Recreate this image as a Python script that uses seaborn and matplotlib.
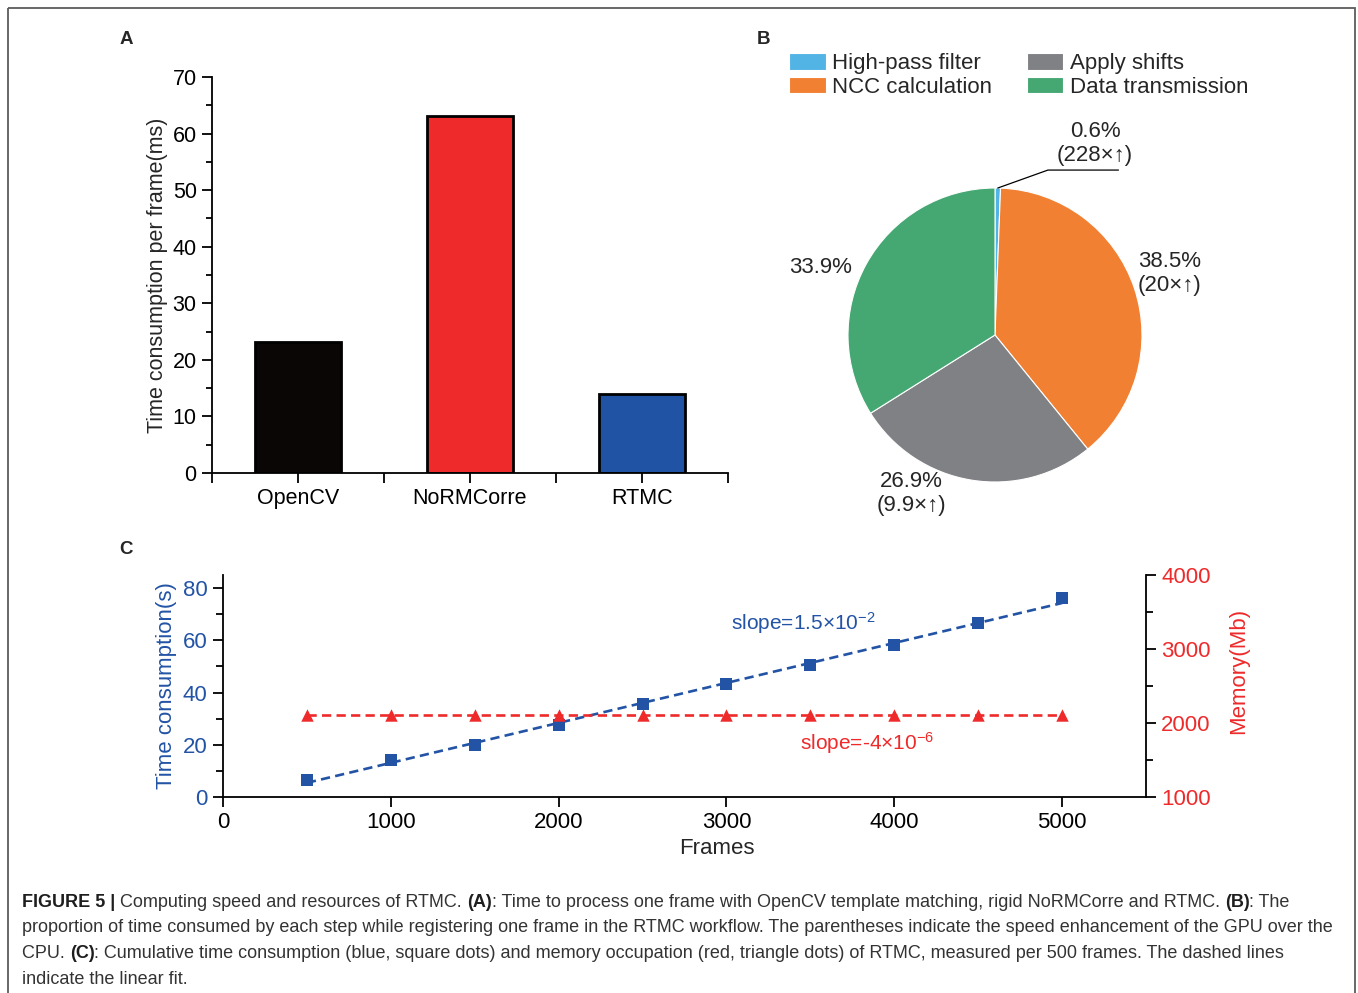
import numpy as np
import pandas as pd
import matplotlib
matplotlib.use("Agg")
import matplotlib.pyplot as plt
from matplotlib.patches import Rectangle
from matplotlib.ticker import MultipleLocator, FixedLocator
import seaborn as sns

# ---- Panel A: time per frame -------------------------------------------
methods = ["OpenCV", "NoRMCorre", "RTMC"]
frame_time_ms = [23.2, 63.1, 14.0]
bar_colors = ["#0b0606", "#ee2a2b", "#2153a4"]

# ---- Panel B: share of time per step ----------------------------------
steps = ["High-pass filter", "NCC calculation", "Apply shifts", "Data transmission"]
step_share = [0.6, 38.5, 26.9, 33.9]
step_speedup = ["228×↑", "20×↑", "9.9×↑", None]
step_colors = ["#52b3e5", "#f28032", "#808184", "#45a873"]

# ---- Panel C: cumulative time and memory ------------------------------
frames = [500, 1000, 1500, 2000, 2500, 3000, 3500, 4000, 4500, 5000]
cum_time_s = [6.6, 14.0, 19.8, 27.6, 35.7, 43.3, 50.6, 58.2, 66.6, 76.1]
memory_mb = [2110, 2110, 2110, 2110, 2110, 2110, 2110, 2110, 2110, 2110]
slope_time_text = "slope=1.5×10$^{-2}$"
slope_mem_text = "slope=-4×10$^{-6}$"

BLUE = "#2253a5"
RED = "#ee2a2b"
CAPTION = "#333333"

sns.set_theme(style="ticks")
plt.rcParams["font.family"] = ["Liberation Sans", "DejaVu Sans"]
plt.rcParams["mathtext.fontset"] = "custom"
plt.rcParams["mathtext.rm"] = "Liberation Sans"
plt.rcParams["mathtext.it"] = "Liberation Sans:italic"
plt.rcParams["mathtext.bf"] = "Liberation Sans:bold"
plt.rcParams["axes.linewidth"] = 1.3
plt.rcParams["xtick.major.width"] = 1.3
plt.rcParams["ytick.major.width"] = 1.3
plt.rcParams["xtick.minor.width"] = 1.3
plt.rcParams["ytick.minor.width"] = 1.3
plt.rcParams["xtick.color"] = "black"
plt.rcParams["ytick.color"] = "black"
plt.rcParams["axes.edgecolor"] = "black"

W, H = 1358, 993
fig = plt.figure(figsize=(W / 100, H / 100), dpi=100)
fig.patch.set_facecolor("white")


def box(left, top, right, bottom):
    """Axes rectangle from pixel edges (origin at top-left)."""
    return [left / W, 1 - bottom / H, (right - left) / W, (bottom - top) / H]


FS = 15.5
FS_B = 16

# ---------------------------------------------------------------- Panel A
axA = fig.add_axes(box(212, 77, 728, 473))
dfA = pd.DataFrame({"method": methods, "time": frame_time_ms})
sns.barplot(data=dfA, x="method", y="time", hue="method", palette=bar_colors,
            width=0.5, edgecolor="black", linewidth=2, saturation=1,
            legend=False, ax=axA)
axA.set_xlim(-0.5, 2.5)
axA.set_ylim(0, 70)
axA.yaxis.set_major_locator(MultipleLocator(10))
axA.yaxis.set_minor_locator(MultipleLocator(5))
axA.xaxis.set_minor_locator(FixedLocator([-0.5, 0.5, 1.5, 2.5]))
axA.tick_params(axis="both", which="major", length=7, labelsize=FS, pad=4)
axA.tick_params(axis="y", which="minor", length=4)
axA.tick_params(axis="x", which="minor", length=7)
axA.set_xlabel("")
axA.set_ylabel("Time consumption per frame(ms)", fontsize=FS, labelpad=3)
sns.despine(ax=axA)

# ---------------------------------------------------------------- Panel B
axB = fig.add_axes(box(848, 188, 1142, 482))
wedges, _ = axB.pie(step_share, colors=step_colors, startangle=90,
                    counterclock=False,
                    wedgeprops=dict(edgecolor="white", linewidth=0.8))
axB.set_xlim(-1, 1)
axB.set_ylim(-1, 1)
axB.set_aspect("equal")

label_xy = [(0.68, 1.30), (1.19, 0.42), (-0.57, -1.08), (-1.19, 0.46)]
for share, speed, (lx, ly) in zip(step_share, step_speedup, label_xy):
    txt = f"{share:.1f}%" if speed is None else f"{share:.1f}%\n({speed})"
    axB.text(lx, ly, txt, ha="center", va="center", fontsize=FS_B,
             linespacing=1.2, clip_on=False)

# leader line to the thin high-pass slice
hp = wedges[0]
mid = np.deg2rad((hp.theta1 + hp.theta2) / 2)
axB.plot([np.cos(mid), 0.36, 0.84], [np.sin(mid), 1.122, 1.122],
         color="black", lw=0.9, clip_on=False)

fig.legend(handles=wedges, labels=steps, ncol=2, loc="upper left",
           bbox_to_anchor=(789 / W, 1 - 53 / H), frameon=False,
           fontsize=FS_B, handlelength=1.65, handleheight=0.78,
           handletextpad=0.3, labelspacing=0.12, columnspacing=1.55,
           borderpad=0, borderaxespad=0)

# ---------------------------------------------------------------- Panel C
axC = fig.add_axes(box(223, 575, 1146, 797))
axC2 = axC.twinx()
line_dash = (0, (3.5, 2.0))
sns.regplot(x=frames, y=cum_time_s, ax=axC, ci=None, marker="s", color=BLUE,
            scatter_kws={"s": 78, "linewidths": 0, "alpha": 1, "zorder": 3},
            line_kws={"ls": line_dash, "lw": 1.9})
sns.regplot(x=frames, y=memory_mb, ax=axC2, ci=None, marker="^", color=RED,
            scatter_kws={"s": 80, "linewidths": 0, "alpha": 1, "zorder": 3},
            line_kws={"ls": line_dash, "lw": 1.9})
axC.set_xlim(0, 5500)
axC.set_ylim(0, 85)
axC2.set_ylim(1000, 4000)
axC.xaxis.set_major_locator(FixedLocator([0, 1000, 2000, 3000, 4000, 5000]))
axC.yaxis.set_major_locator(MultipleLocator(20))
axC.yaxis.set_minor_locator(MultipleLocator(10))
axC2.yaxis.set_major_locator(MultipleLocator(1000))
axC2.yaxis.set_minor_locator(MultipleLocator(500))
axC.tick_params(axis="both", which="major", length=7, labelsize=FS_B, pad=4)
axC.tick_params(axis="y", which="minor", length=5)
axC.tick_params(axis="y", labelcolor=BLUE)
axC2.tick_params(axis="y", which="major", length=7, labelsize=FS_B, pad=4,
                 labelcolor=RED)
axC2.tick_params(axis="y", which="minor", length=5)
axC.spines["top"].set_visible(False)
axC.spines["right"].set_visible(False)
axC2.spines["top"].set_visible(False)
axC2.spines["left"].set_visible(False)
axC2.spines["bottom"].set_visible(False)
axC.set_xlabel("Frames", fontsize=FS_B)
axC.xaxis.set_label_coords((717 - 223) / 923, -0.185)
axC.xaxis.label.set_va("top")
axC.set_ylabel("Time consumption(s)", fontsize=FS_B, color=BLUE, labelpad=4)
axC2.set_ylabel("Memory(Mb)", fontsize=FS_B, color=RED)
axC2.yaxis.set_label_coords(1 + (1228 - 1146) / 923, 0.57)
axC.text(3456, 66.7, slope_time_text, color=BLUE, fontsize=15,
         ha="center", va="center")
axC.text(3837, 20.6, slope_mem_text, color=RED, fontsize=15,
         ha="center", va="center")

# ---------------------------------------------------- overlay: frame, letters, caption
ov = fig.add_axes([0, 0, 1, 1], zorder=-1)
ov.set_axis_off()
ov.set_xlim(0, W)
ov.set_ylim(H, 0)
ov.add_patch(Rectangle((8, 8), 1347, 1100, fill=False, edgecolor="#5c5c5c",
                       lw=1.3, clip_on=False))
for letter, (px, py) in {"A": (126, 39), "B": (763, 39), "C": (126, 549)}.items():
    ov.text(px, py, letter, fontsize=13.5, fontweight="bold", ha="center",
            va="center")

caption_lines = [
    [("FIGURE 5 |", True), (" Computing speed and resources of RTMC. ", False),
     ("(A)", True), (": Time to process one frame with OpenCV template matching, "
                     "rigid NoRMCorre and RTMC. ", False), ("(B)", True),
     (": The", False)],
    [("proportion of time consumed by each step while registering one frame in "
      "the RTMC workflow. The parentheses indicate the speed enhancement of the "
      "GPU over the", False)],
    [("CPU. ", False), ("(C)", True),
     (": Cumulative time consumption (blue, square dots) and memory occupation "
      "(red, triangle dots) of RTMC, measured per 500 frames. The dashed lines",
      False)],
    [("indicate the linear fit.", False)],
]
CAP_FS = 13.0
for i, parts in enumerate(caption_lines):
    base_y = 907 + i * 25.5
    prev = None
    for text, bold in parts:
        kw = dict(fontsize=CAP_FS, color="#1e1e1e" if bold else CAPTION,
                  fontweight="bold" if bold else "normal", ha="left")
        if prev is None:
            prev = ov.text(22, base_y, text, va="baseline", **kw)
        else:
            prev = ov.annotate(text, xy=(1, 0), xycoords=prev, va="bottom",
                               annotation_clip=False, **kw)

fig.savefig("out.png", dpi=100, facecolor="white")
